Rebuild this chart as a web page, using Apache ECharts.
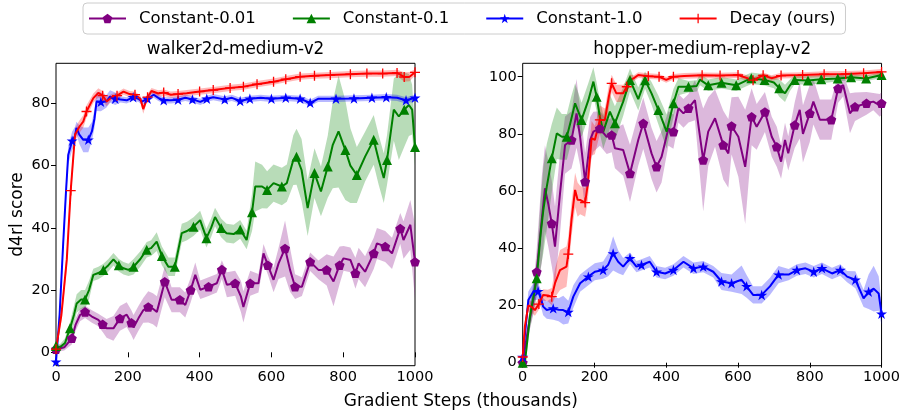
<!DOCTYPE html>
<html>
<head>
<meta charset="utf-8">
<script src="https://cdn.jsdelivr.net/npm/echarts@6/dist/echarts.min.js"></script>
<style>html,body{margin:0;padding:0;background:#fff;}#c{width:903px;height:411px;}</style>
</head>
<body>
<div id="c"></div>
<script>
// ---------- data: [step (thousands), score, spread] ----------
const seriesNames = ['Constant-0.01', 'Constant-0.1', 'Constant-1.0', 'Decay (ours)'];
const panelTitles = ['walker2d-medium-v2', 'hopper-medium-replay-v2'];
const xTicks = [0, 200, 400, 600, 800, 1000];
const yTicksLeft = [0, 20, 40, 60, 80];
const yTicksRight = [0, 20, 40, 60, 80, 100];

const walkerC001 = [[0,1,1],[23,1.6,1],[44,4.5,2],[55,9,2],[67,12,2],[81,13,2],[100,11.5,2],[118,10.4,2],[130,9,2.5],[141,7.7,3],[160,7.7,4],[178,10.9,4],[197,12.1,4],[210,9.5,4],[216,8,4],[230,11,4],[243,13.5,4],[257,14.6,5],[270,14,5],[281,13,5],[303,22.7,5],[322,16.9,4],[345,16.9,4],[360,15.2,4],[375,20,4],[388,24.9,4],[402,20.1,3],[425,21.1,3],[448,22.2,3],[462,26.6,3],[476,21.7,4],[499,22.2,4],[515,18,5],[522,14.6,5],[541,22.2,4],[564,22.2,3],[578,31.8,3],[590,28,3],[606,23.3,4],[620,28.6,5],[638,33.4,9],[652,26.5,7],[666,21.1,4],[685,21.1,3],[708,29.1,3],[731,26.5,3],[754,26.5,5],[773,22.8,8],[790,28,6],[801,30.2,4],[820,29.7,4],[834,25.4,5],[843,28.6,5],[861,25.9,5],[885,31.8,5],[894,35,5],[917,34,5],[936,31.8,5],[959,39.8,5],[968,36.1,6],[987,41,8],[1000,29.1,12]];
const walkerC01 = [[0,2,1],[11,1.6,1],[25,3,1.5],[39,7.7,2],[50,12,3],[57.6,15.7,3],[70,17,3],[80.9,17,3],[92,20,3],[104,24.9,2],[118,25.5,2],[132,26.5,2],[146,28,2],[160,29.9,2],[175,28,2],[188,27,2],[202,26.5,2],[216,27.5,2.5],[235,30,2.5],[252.7,33,2.5],[265,33.5,2.5],[280.5,35.6,3],[295,31,3],[313,27.5,3],[331,27.5,3],[350.3,38.3,3],[365,39,3],[383,40.4,3],[401.5,42.5,3],[419,36.7,3],[432,40,3],[443,43.5,3],[460,40,3],[475,38.3,3],[495,38,3],[513,39.5,3],[531,36.1,3],[546,45,6],[555,53.3,8],[574,53.3,7],[588,52.2,6],[606,54.4,6],[629,53.3,6],[643,54.4,6],[661,61.8,8],[670,62.9,9],[684,58.6,10],[701,46.4,9],[720,57.6,8],[738,51.7,8],[757,59.7,10],[771,66.7,14],[787,71,18],[806,65,16],[820,60,12],[838,57,9],[861,62.9,8],[885,68.3,8],[899,61.8,8],[913,56,8],[922,61.8,8],[941,78,10],[955,75.8,14],[970,78,12],[983,79.5,10],[992,78,8],[1000,66,6]];
const walkerC10 = [[0,-3,1],[10,12,3],[20,35,3],[28,52,3],[34,63.4,3],[45,68,3],[53,69.5,3],[57,72.1,2],[65,70,3],[76,68.3,4],[90,68.3,4],[100,71,3],[107,75,3],[113,80.6,3],[125,80.5,3],[140,80.6,2],[150.6,82.2,2],[165,81.5,2],[180,81.3,1],[197,81,1],[215,82,1],[230,81.5,1],[239,80.6,1],[255,81.5,1],[272,82.8,1],[285,81.8,1],[300,81,1],[320,81,1],[340,81.2,1],[360,81.8,1],[380,81.3,1],[402,80.5,1],[420,81.5,1],[438,82,1],[470,81.3,1],[490,81.8,1],[513,80.8,1],[540,81.5,1],[570,81.8,1],[600,81.5,1],[640,81.8,1],[680,81.5,1],[708,80.2,1],[730,81.5,1],[780,81.5,1],[830,81.6,1],[880,81.8,1],[920,82,1],[950,81.8,1],[975,81,1],[1000,81.8,1]];
const walkerDecay = [[0,1,1],[15,12,2],[30,29.7,3],[41,52,3],[53,70,2],[65,72.5,2],[76,74.2,2],[85,77.4,2],[104,81.7,1.5],[118,83.4,1.5],[130,82.5,1.5],[141,80.6,1.5],[155,82,1],[170,82.5,1],[188,83.8,1],[205,83,1],[220,82.8,1],[235,81.5,1],[243,78.2,1.5],[255,82,1],[266,84,1],[285,83.2,1],[300,83.5,1],[320,82.8,1],[340,83,1],[364,83.3,1],[400,83.8,1],[438,84.3,1],[485,85,1],[522,85.4,1],[560,86.2,1],[606,87,1],[640,87.8,1],[680,88.6,1],[720,88.9,1],[764,89.1,1],[820,89.4,1],[866,89.6,1],[910,89.6,1],[950,89.8,1],[970,88.5,1.5],[985,88.6,1.5],[1000,90,1]];

const hopperC001 = [[0,0,1],[15,12,3],[30,22,5],[39,31.8,8],[53,49.9,15],[62,61,15],[71,55.7,15],[81,48.7,15],[90,40.6,14],[104,59.2,14],[118,76.1,10],[136,77.9,10],[150,87.2,12],[160,79,10],[174,63.3,10],[188,77.9,8],[197,80.8,7],[215,81.9,6],[234,79,6],[248,79.6,6],[257,75,7],[280,74.4,9],[299,66.2,10],[322,77.9,9],[336,83.7,9],[359,73.2,9],[373,68.5,9],[387,72,9],[406,81.9,6],[420,80.8,6],[434,89,5],[448,87.2,5],[462,89,5],[480,91.8,7],[503,70.9,18],[517,80.8,12],[536,85.5,10],[559,76.1,12],[573,73.2,12],[582,82.8,10],[601,79,14],[620,68.5,20],[638,86,10],[652,82.5,8],[675,87.7,7],[694,79,7],[708,75.5,7],[720,70.3,6],[731,77.9,6],[740,73.2,6],[758,83.1,8],[772,88.4,10],[781,80,10],[800,87.2,10],[810,91.3,8],[828,85,7],[860,85,7],[879,95.9,5],[893,97.1,4],[912,87.2,7],[926,89.5,5],[958,90.7,4],[977,91.3,3],[995,90,4],[1000,90.7,4]];
const hopperC01 = [[0,0,1],[7,1,2],[20,16,4],[39,29.5,6],[50,45,12],[57.5,53.4,15],[67,61.5,15],[81,71.5,12],[95,80.2,9],[109,79,8],[123,79,8],[135,85,8],[146,90.7,7],[164,84.9,6],[183,91.8,6],[197,98.3,5],[206,93,5],[215,86,6],[224.5,80.8,6],[243,87.8,6],[257,83.7,6],[280,91.3,5],[299,98.9,4],[322,92.2,4],[341,98.8,3],[359,94.2,4],[378,88.4,5],[401,80.8,6],[420,90.7,5],[434,96.5,3],[462,96.5,2],[485,96.8,2],[494,99,2],[517,97,2],[554,97.9,2],[595,97,2],[637,99.5,2],[674,98.9,2],[700,98,2],[715,96,3],[731,94.2,3],[745,97,2],[758,98.9,1.5],[795,98.7,1.5],[832,99.1,1.5],[878,99.4,1],[915,99.8,1],[957,99.4,1],[1000,100.6,1]];
const hopperC10 = [[0,2,2],[15.7,21.9,3],[29.5,24.8,3],[43,25,3],[52,22,3],[57,19.6,3],[67,18.4,3],[85,19,4],[100,18.5,4],[113,18.4,5],[127,17.7,4],[141,23.1,4],[160,27.8,3],[183,30.1,3],[201,31.8,3],[224,32.4,3],[238,34.2,4],[252,38.2,6],[266,35.3,4],[280,33.6,3],[299,36.5,2],[317,33.6,2],[331,34.2,2],[354,35.3,2],[373,31.8,2],[397,31.2,2],[420,32.4,2],[448,35.3,2],[476,33,2],[503,33.6,2],[531,31.8,2],[554,28.4,3],[582,27.8,3],[610,29,5],[624,26.7,4],[642,23.7,3],[666,23.7,3],[689,26.7,3],[713,30.8,3],[741,30.8,2],[764,32.4,2],[788,33,2],[811,31.8,2],[834,33,2],[862,31.2,2],[885,32.4,2],[904,30.1,2],[927,29,3],[950,22.5,3],[964,24.8,6],[978,25.9,8],[992,24.2,6],[1000,17.1,4]];
const hopperDecay = [[0,2,1],[6,12.6,2],[15.7,20,2],[25,19.5,2],[34,18.4,2],[45,20.5,2],[57,23.7,2],[70,23.5,2],[81,23.1,3],[90,27.8,5],[104,32.4,7],[122,33.6,7],[127,38,6],[136,50,6],[146,60.4,6],[153,57,6],[160,56.9,5],[174,56,5],[181,62,6],[192,78.5,6],[201,77.9,5],[215,84.9,5],[229,84.9,4],[240,93,4],[248,97.7,3],[261,94.2,3],[280,94.2,3],[290,96.5,2],[299,98.8,2],[310,99.5,1],[322,100.6,1],[350,100.2,1],[380,100,1],[400,98.9,1],[420,100,1],[450,100.3,1],[500,100.5,1],[550,100.4,1],[600,100.6,1],[642,98.8,1],[670,100.5,1],[693,99.5,1],[720,100.4,1],[780,100.6,1],[840,100.9,1],[900,101,1],[950,101.2,1],[1000,101.7,1]];

// ---------- styling ----------
const colors = ['#800080', '#008000', '#0000ff', '#ff0000'];
const bandColors = ['rgba(128,0,128,0.28)', 'rgba(0,128,0,0.28)', 'rgba(0,0,255,0.28)', 'rgba(255,0,0,0.28)'];
const symbols = [
  'path://M0,-1L0.951,-0.309L0.588,0.809L-0.588,0.809L-0.951,-0.309Z',
  'triangle',
  'path://M0,-1L0.2245,-0.309L0.951,-0.309L0.363,0.118L0.588,0.809L0,0.382L-0.588,0.809L-0.363,0.118L-0.951,-0.309L-0.2245,-0.309Z',
  'path://M-1,-0.13L1,-0.13L1,0.13L-1,0.13Z M-0.13,-1L0.13,-1L0.13,1L-0.13,1Z'
];
const symSizes = [10, 10, 11, 10];
const FONT = 'DejaVu Sans';

function markIndices(arr, step) {
  const s = new Set(); let t = 0;
  arr.forEach((d, i) => { if (d[0] >= t - 3) { s.add(i); while (t <= d[0] + 3) t += step; } });
  return s;
}

const panels = [[walkerC001, walkerC01, walkerC10, walkerDecay], [hopperC001, hopperC01, hopperC10, hopperDecay]];
const series = [];
panels.forEach((panel, p) => {
  panel.forEach((arr, k) => {
    series.push({
      type: 'custom', name: seriesNames[k] + ' band ' + p, xAxisIndex: p, yAxisIndex: p,
      silent: true, clip: true, z: 1,
      data: arr.map(d => [d[0], d[1] - d[2], d[1] + d[2]]),
      encode: { x: 0, y: [1, 2] },
      renderItem: (params, api) => {
        if (params.dataIndex !== 0) return null;
        const up = arr.map(d => api.coord([d[0], d[1] + d[2]]));
        const dn = arr.map(d => api.coord([d[0], d[1] - d[2]])).reverse();
        return { type: 'polygon', shape: { points: up.concat(dn) }, style: { fill: bandColors[k] } };
      }
    });
  });
});
panels.forEach((panel, p) => {
  panel.forEach((arr, k) => {
    const marks = markIndices(arr, 41.7);
    series.push({
      type: 'line', name: seriesNames[k], xAxisIndex: p, yAxisIndex: p, z: 2,
      data: arr.map(d => [d[0], d[1]]),
      symbol: symbols[k], symbolKeepAspect: true,
      symbolSize: (v, params) => marks.has(params.dataIndex) ? symSizes[k] : 0,
      showSymbol: true, animation: false,
      lineStyle: { color: colors[k], width: 2 },
      itemStyle: { color: colors[k], borderWidth: 0 },
      emphasis: { disabled: true }
    });
  });
});

const axisCommon = {
  axisLine: { show: false },
  axisTick: { show: true, length: 5, lineStyle: { color: '#000', width: 1 } },
  splitLine: { show: false },
  axisLabel: { fontFamily: FONT, fontSize: 14.5, color: '#000' }
};

function yAxis(idx, min, max, ticks, name) {
  return Object.assign({}, axisCommon, {
    type: 'value', gridIndex: idx, min: min, max: max, splitNumber: 5,
    name: name || '', nameLocation: 'middle', nameGap: 30,
    nameTextStyle: { fontFamily: FONT, fontSize: 17, color: '#000' },
    axisTick: Object.assign({}, axisCommon.axisTick, { customValues: ticks }),
    axisLabel: Object.assign({}, axisCommon.axisLabel, { margin: 6, customValues: ticks,
      formatter: v => (ticks.indexOf(Math.round(v * 1000) / 1000) >= 0 ? String(v) : '') })
  });
}
function xAxis(idx) {
  return Object.assign({}, axisCommon, {
    type: 'value', gridIndex: idx, min: 0, max: 1000, interval: 200,
    axisTick: Object.assign({}, axisCommon.axisTick, { customValues: xTicks }),
    axisLabel: Object.assign({}, axisCommon.axisLabel, { margin: 4, customValues: xTicks,
      formatter: v => String(v) })
  });
}

const chart = echarts.init(document.getElementById('c'), null, { renderer: 'canvas' });
chart.setOption({
  animation: false,
  backgroundColor: '#fff',
  textStyle: { fontFamily: FONT },
  grid: [
    { left: 56, top: 63.3, width: 359, height: 302.4, show: true, borderColor: '#000', borderWidth: 1, backgroundColor: 'transparent', containLabel: false },
    { left: 522.7, top: 63.3, width: 359, height: 302.4, show: true, borderColor: '#000', borderWidth: 1, backgroundColor: 'transparent', containLabel: false }
  ],
  xAxis: [xAxis(0), xAxis(1)],
  yAxis: [yAxis(0, -4.3, 92.9, yTicksLeft, 'd4rl score'), yAxis(1, -1.05, 104.7, yTicksRight)],
  legend: {
    data: seriesNames, left: 83, top: 3, orient: 'horizontal',
    itemWidth: 37, itemHeight: 12, itemGap: 36,
    padding: [7, 10, 7, 5],
    borderColor: '#cccccc', borderWidth: 1, borderRadius: 4, backgroundColor: 'rgba(255,255,255,0.8)',
    textStyle: { fontFamily: FONT, fontSize: 16.5, color: '#000', padding: [0, 0, 0, 8], lineHeight: 15 },
    selectedMode: false
  },
  graphic: [
    { type: 'text', x: 235.5, y: 50, style: { text: panelTitles[0], font: '16.8px "DejaVu Sans"', fill: '#000', textAlign: 'center', textVerticalAlign: 'middle' } },
    { type: 'text', x: 702.2, y: 50, style: { text: panelTitles[1], font: '16.8px "DejaVu Sans"', fill: '#000', textAlign: 'center', textVerticalAlign: 'middle' } },
    { type: 'text', x: 460.8, y: 401.5, style: { text: 'Gradient Steps (thousands)', font: '17px "DejaVu Sans"', fill: '#000', textAlign: 'center', textVerticalAlign: 'middle' } }
  ],
  series: series
});
</script>
</body>
</html>
